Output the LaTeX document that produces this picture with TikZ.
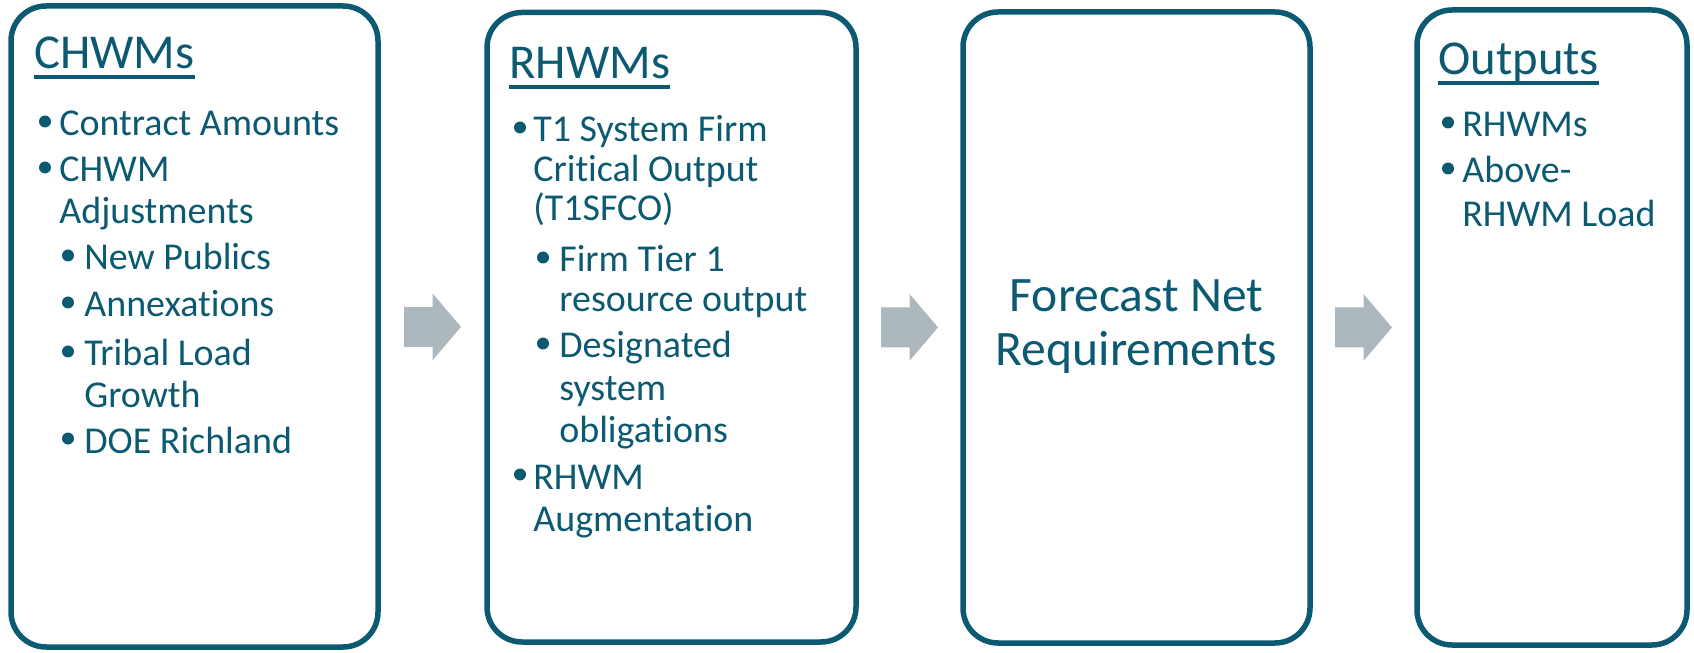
\documentclass[tikz,border=0pt]{standalone}
\usepackage{fontspec}
\setmainfont{Carlito}[Ligatures=NoCommon]
\usetikzlibrary{calc}
\definecolor{Petrol}{HTML}{0B5A72}
\definecolor{Ash}{HTML}{ADB8BE}

\begin{document}
\begin{tikzpicture}[font=\fontsize{21.6}{25}\selectfont,text=Petrol,
    panel/.style={draw=Petrol,line width=0.11cm,rounded corners=0.7cm,inner sep=0pt},
    heading/.style={anchor=base west,inner sep=0pt,font=\fontsize{27.7}{32}\selectfont},
    entry/.style={anchor=base west,inner sep=0pt},
    bigtext/.style={anchor=base,inner sep=0pt,font=\fontsize{28.2}{32}\selectfont}]
    \useasboundingbox (0,0) rectangle (33.88,13.04);
    \node[panel,minimum width=7.34cm,minimum height=12.82cm] (chwm) at (3.89,6.51) {};
    \node[panel,minimum width=7.38cm,minimum height=12.59cm] (rhwm) at (13.43,6.495) {};
    \node[panel,minimum width=6.94cm,minimum height=12.62cm] (fnr) at (22.73,6.49) {};
    \node[panel,minimum width=5.40cm,minimum height=12.70cm] (outp) at (31.04,6.49) {};
    \foreach \a/\b in {chwm/rhwm,rhwm/fnr,fnr/outp}{
      \coordinate (mid-\a) at ($(\a.east)!0.5!(\b.west)$);
      \fill[Ash] ($(mid-\a)+(-0.57,0.40)$) -- ($(mid-\a)+(0,0.40)$) -- ($(mid-\a)+(0,0.67)$)
        -- ($(mid-\a)+(0.57,0)$) -- ($(mid-\a)+(0,-0.67)$) -- ($(mid-\a)+(0,-0.40)$)
        -- ($(mid-\a)+(-0.57,-0.40)$) -- cycle;
    }
    \node[heading] (chwm-head) at (0.68,11.66) {CHWMs};
    \node[heading] (rhwm-head) at (10.18,11.46) {RHWMs};
    \node[heading] (outp-head) at (28.76,11.54) {Outputs};
    \foreach \h in {chwm-head,rhwm-head,outp-head}
      \draw[Petrol,line width=0.07cm] ($(\h.base west)+(0,-0.16)$) -- ($(\h.base east)+(0,-0.16)$);
    \foreach \x/\y/\txt [count=\i] in {1.18/10.32/Contract Amounts,1.18/9.40/CHWM,1.18/8.56/Adjustments,
        1.68/7.64/New Publics,1.68/6.70/Annexations,1.68/5.72/Tribal Load,1.68/4.90/Growth,1.68/3.98/DOE Richland}
      \node[entry] (chwm-\i) at (\x,\y) {\txt};
    \foreach \x/\y in {0.90/10.32,0.90/9.40,1.36/7.64,1.36/6.70,1.36/5.72,1.36/3.98}
      \fill[Petrol] (\x,\y+0.29) circle (0.12);
    \foreach \x/\y/\txt [count=\i] in {10.66/10.20/T1 System Firm,10.66/9.40/Critical Output,10.66/8.62/(T1SFCO),
        11.18/7.60/Firm Tier 1,11.18/6.80/resource output,11.18/5.88/Designated,11.18/5.02/system,
        11.18/4.20/obligations,10.66/3.26/RHWM,10.66/2.42/Augmentation}
      \node[entry] (rhwm-\i) at (\x,\y) {\txt};
    \foreach \x/\y in {10.40/10.20,10.86/7.60,10.86/5.88,10.40/3.26}
      \fill[Petrol] (\x,\y+0.29) circle (0.12);
    \node[bigtext] (fnr-1) at (22.73,6.80) {Forecast Net};
    \node[bigtext] (fnr-2) at (22.73,5.72) {Requirements};
    \foreach \y/\txt [count=\i] in {10.30/RHWMs,9.38/Above-,8.50/RHWM Load}
      \node[entry] (outp-\i) at (29.24,\y) {\txt};
    \foreach \y in {10.30,9.38}
      \fill[Petrol] (28.96,\y+0.29) circle (0.12);
  \end{tikzpicture}
\end{document}
